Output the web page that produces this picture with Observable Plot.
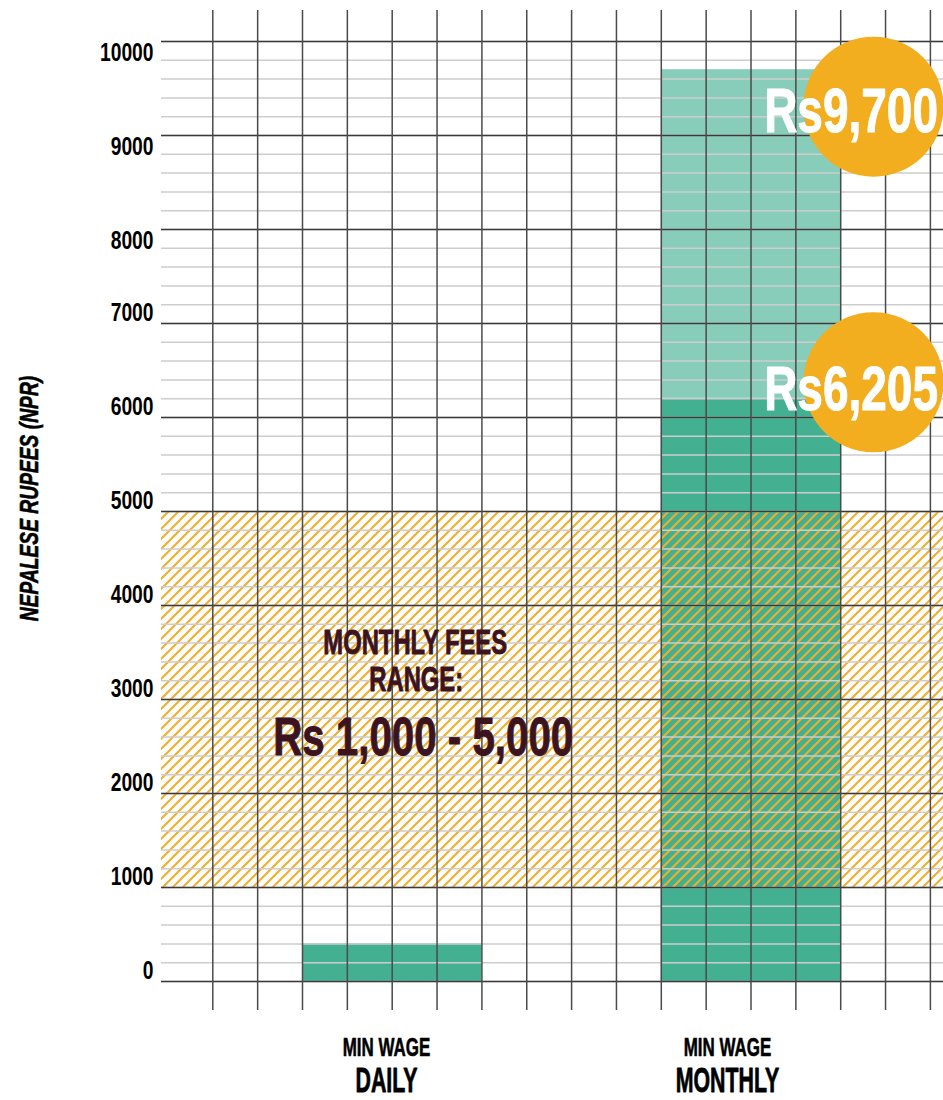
<!DOCTYPE html>
<html>
<head>
<meta charset="utf-8">
<script src="https://cdn.jsdelivr.net/npm/d3@7"></script>
<script src="https://cdn.jsdelivr.net/npm/@observablehq/plot@0.6"></script>
<style>
  html, body { margin: 0; padding: 0; background: #fff; }
  #chart svg { display: block; }
</style>
</head>
<body>
<div id="chart"></div>
<script>
// ---- data ----
const categories = ["DAILY", "MONTHLY"];
const categoryPrefix = ["MIN WAGE", "MIN WAGE"];
const wageBase = [400, 6205];      // dark green segment
const wageUpper = [null, 9700];    // light green segment top
const feeRange = [1000, 5000];
const feeText = ["MONTHLY FEES", "RANGE:", "Rs 1,000 - 5,000"];
const calloutText = ["Rs9,700", "Rs6,205"];
const calloutValue = [9700, 6205];
const yTicks = [0, 1000, 2000, 3000, 4000, 5000, 6000, 7000, 8000, 9000, 10000];
const yMinorTicks = d3.range(0, 10001, 200);
const gridColumns = d3.range(0, 17);
const yLabel = "NEPALESE RUPEES (NPR)";

// ---- styles ----
const FONT = "'Liberation Sans', Arial, sans-serif";
const DARK_GREEN = "#43b092";
const LIGHT_GREEN = "#88cdb9";
const ORANGE = "#f2ae1f";
const MAROON = "#3b1420";

// horizontal condensing factors (to imitate a condensed typeface)
const condense = new Map([
  ["Rs9,700", 0.73], ["Rs6,205", 0.73],
  ["MIN WAGE", 0.64], ["DAILY", 0.61], ["MONTHLY", 0.61],
  ["MONTHLY FEES", 0.68], ["RANGE:", 0.68], ["Rs 1,000 - 5,000", 0.76],
  [yLabel, 0.74]
]);
const defaultCondense = 0.74; // tick labels

const bars = categories.map((c, i) => ({
  category: c, center: 4 + 8 * i, base: wageBase[i], upper: wageUpper[i]
}));
const monthly = bars[1];

const hatchDefs = () => {
  const defs = d3.create("svg:defs");
  const p = defs.append("pattern")
    .attr("id", "hatch")
    .attr("patternUnits", "userSpaceOnUse")
    .attr("width", 10).attr("height", 10);
  p.append("path")
    .attr("d", "M-2,2 L2,-2 M0,10 L10,0 M8,12 L12,8")
    .attr("stroke", "#f4ad27")
    .attr("stroke-width", 2)
    .attr("stroke-linecap", "square");
  return defs.node();
};

const calloutDy = [[37, 42.5], [-16, -8.5]];

const marks = [
  hatchDefs,
  Plot.rect(bars, {x1: d => d.center - 2, x2: d => d.center + 2, y1: 0, y2: "base", fill: DARK_GREEN}),
  Plot.rect(bars.filter(d => d.upper != null), {x1: d => d.center - 2, x2: d => d.center + 2, y1: "base", y2: "upper", fill: LIGHT_GREEN}),
  Plot.rect([feeRange], {y1: d => d[0], y2: d => d[1], fill: "url(#hatch)"}),
  Plot.ruleY(yMinorTicks, {stroke: "#cdcdcd", strokeWidth: 1.5}),
  Plot.ruleY(yTicks, {stroke: "#3a3a3a", strokeWidth: 1.5}),
  Plot.ruleX(gridColumns, {stroke: "#4a4a4a", strokeWidth: 1.5}),
];

calloutText.forEach((t, i) => {
  marks.push(Plot.dot([i], {x: monthly.center, y: d => calloutValue[d], r: 70, fill: ORANGE, stroke: null, dx: 122.5, dy: calloutDy[i][0]}));
  marks.push(Plot.text([t], {x: monthly.center, y: calloutValue[i], text: d => d, textAnchor: "end", dx: 187, dy: calloutDy[i][1],
    fill: "#fff", stroke: "#fff", strokeWidth: 1, fontSize: 63, fontWeight: "bold"}));
});

// fee range annotation
const feeMid = (feeRange[0] + feeRange[1]) / 2;
const feeDx = [23, 24, 31];
const feeDy = [-57, -20, 39];
const feeSize = [35, 35, 53];
feeText.forEach((t, i) => {
  marks.push(Plot.text([t], {x: bars[0].center, y: feeMid, text: d => d, dx: feeDx[i], dy: feeDy[i],
    fill: MAROON, stroke: MAROON, strokeWidth: 0.9, fontSize: feeSize[i], fontWeight: "bold"}));
});

// category labels
const catDx = [-5.7, -23.5];
categories.forEach((c, i) => {
  marks.push(Plot.text([categoryPrefix[i]], {x: bars[i].center, y: 0, text: d => d, dx: catDx[i], dy: 66.5, fill: "#000", stroke: "#000", strokeWidth: 0.6, fontSize: 26.5, fontWeight: "bold"}));
  marks.push(Plot.text([c], {x: bars[i].center, y: 0, text: d => d, dx: catDx[i], dy: 99.5, fill: "#000", stroke: "#000", strokeWidth: 0.8, fontSize: 35, fontWeight: "bold"}));
});

// y axis title
marks.push(Plot.text([yLabel], {frameAnchor: "left", textAnchor: "middle", text: d => d, rotate: -90, dx: -132, dy: -12, fill: "#000", stroke: "#000", strokeWidth: 0.6, fontSize: 26, fontWeight: "bold", fontStyle: "italic"}));

// y axis (labels sit just under the top three grid lines, just above the others)
const axisOpts = {tickSize: 0, tickPadding: 8, tickFormat: "d", fontSize: 26, fontWeight: "bold", fill: "#000", stroke: "#000", strokeWidth: 0.6, label: null};
marks.push(Plot.axisY(yTicks.filter(v => v >= 8000), {...axisOpts, dy: 11}));
marks.push(Plot.axisY(yTicks.filter(v => v < 8000), {...axisOpts, dy: -11}));

const chart = Plot.plot({
  width: 943,
  height: 1100,
  marginTop: 10,
  marginBottom: 90,
  marginLeft: 161,
  marginRight: 0,
  style: {fontFamily: FONT, background: "#fff", color: "#000", overflow: "visible"},
  x: {domain: [0, 16], range: [212.3, 929.9], axis: null},
  y: {domain: [0, 10000], range: [981, 41], axis: null},
  marks
});

// condense the typeface horizontally around each label's anchor
chart.querySelectorAll("text").forEach(t => {
  const s = condense.has(t.textContent) ? condense.get(t.textContent) : defaultCondense;
  const tr = t.getAttribute("transform") || "";
  t.setAttribute("transform", `${tr} scale(${s},1)`.trim());
});

document.getElementById("chart").append(chart);
</script>
</body>
</html>
